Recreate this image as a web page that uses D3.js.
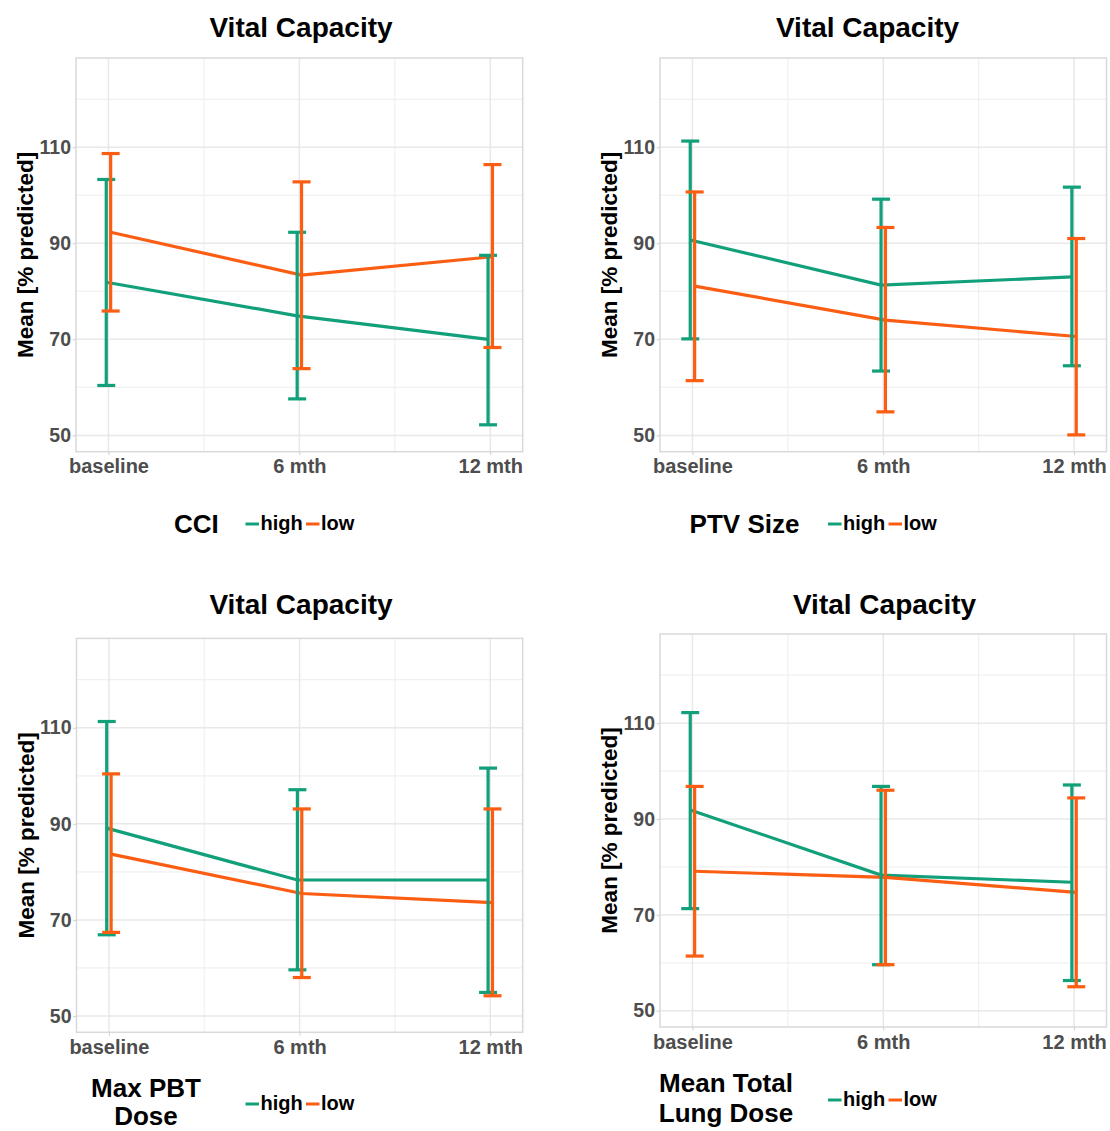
<!DOCTYPE html>
<html>
<head>
<meta charset="utf-8">
<script src="https://cdn.jsdelivr.net/npm/d3@7"></script>
<style>
  body { margin: 0; background: #fff; }
  text { font-family: "Liberation Sans", Arial, sans-serif; font-weight: bold; }
</style>
</head>
<body>
<script>
// time points and axis ticks
const timepoints = ["baseline", "6 mth", "12 mth"];
const yTicks = [50, 70, 90, 110];
const yMinor = [60, 80, 100, 120];
const yDomain = [46.6, 128.6];
const groups = ["high", "low"];

// [lower, mean, upper] per time point
const cciHigh = [[60.4, 81.9, 103.3], [57.6, 74.9, 92.3], [52.2, 70.0, 87.5]];
const cciLow  = [[75.9, 92.3, 108.7], [63.9, 83.4, 102.8], [68.3, 87.2, 106.4]];

const ptvHigh = [[70.1, 90.7, 111.3], [63.4, 81.3, 99.2], [64.5, 83.0, 101.7]];
const ptvLow  = [[61.4, 81.1, 100.7], [54.9, 74.0, 93.3], [50.1, 70.6, 91.0]];

const pbtHigh = [[66.9, 89.1, 111.3], [59.6, 78.3, 97.1], [54.9, 78.3, 101.6]];
const pbtLow  = [[67.4, 83.7, 100.4], [58.0, 75.5, 93.1], [54.2, 73.6, 93.1]];

const mtlHigh = [[71.3, 91.9, 112.2], [59.6, 78.3, 96.8], [56.3, 76.8, 97.1]];
const mtlLow  = [[61.4, 79.1, 96.8], [59.6, 77.8, 96.0], [55.0, 74.7, 94.4]];

const colors = { high: "#11a07a", low: "#fb5d12" };

const svg = d3.select("body")
  .append("svg")
  .attr("width", 1110)
  .attr("height", 1131);

const panels = [
  { high: cciHigh, low: cciLow, left: 76, right: 522.7, top: 58, bottom: 451.7,
    titleX: 301, titleY: 36.5, legendTitle: ["CCI"], legTitleX: 174, legTitleAnchor: "start",
    legTitleY: [533.3], keyX: 245.5, keyY: 524 },
  { high: ptvHigh, low: ptvLow, left: 660, right: 1106.5, top: 58, bottom: 451.7,
    titleX: 867.5, titleY: 37, legendTitle: ["PTV Size"], legTitleX: 689.6, legTitleAnchor: "start",
    legTitleY: [533.3], keyX: 828, keyY: 524 },
  { high: pbtHigh, low: pbtLow, left: 76.5, right: 522.7, top: 638.4, bottom: 1032.3,
    titleX: 301, titleY: 614, legendTitle: ["Max PBT", "Dose"], legTitleX: 146, legTitleAnchor: "middle",
    legTitleY: [1096.5, 1124.5], keyX: 245.5, keyY: 1104 },
  { high: mtlHigh, low: mtlLow, left: 660, right: 1106.5, top: 634, bottom: 1027,
    titleX: 884.5, titleY: 614, legendTitle: ["Mean Total", "Lung Dose"], legTitleX: 726, legTitleAnchor: "middle",
    legTitleY: [1092.3, 1121.7], keyX: 828, keyY: 1100 }
];

function drawPanel(p) {
  const g = svg.append("g");

  const x = d3.scalePoint()
    .domain(timepoints)
    .range([p.left, p.right])
    .padding(0.17);

  const y = d3.scaleLinear()
    .domain(yDomain)
    .range([p.bottom, p.top]);

  // grid
  const xMinor = d3.pairs(timepoints).map(([a, b]) => (x(a) + x(b)) / 2);

  g.selectAll(".gy-minor").data(yMinor).enter().append("line")
    .attr("x1", p.left).attr("x2", p.right)
    .attr("y1", d => y(d)).attr("y2", d => y(d))
    .attr("stroke", "#f0f0f0").attr("stroke-width", 1.2);

  g.selectAll(".gx-minor").data(xMinor).enter().append("line")
    .attr("x1", d => d).attr("x2", d => d)
    .attr("y1", p.top).attr("y2", p.bottom)
    .attr("stroke", "#f0f0f0").attr("stroke-width", 1.2);

  g.selectAll(".gy").data(yTicks).enter().append("line")
    .attr("x1", p.left).attr("x2", p.right)
    .attr("y1", d => y(d)).attr("y2", d => y(d))
    .attr("stroke", "#e8e8e8").attr("stroke-width", 1.5);

  g.selectAll(".gx").data(timepoints).enter().append("line")
    .attr("x1", d => x(d)).attr("x2", d => x(d))
    .attr("y1", p.top).attr("y2", p.bottom)
    .attr("stroke", "#e8e8e8").attr("stroke-width", 1.5);

  g.append("rect")
    .attr("x", p.left).attr("y", p.top)
    .attr("width", p.right - p.left).attr("height", p.bottom - p.top)
    .attr("fill", "none").attr("stroke", "#d9d9d9").attr("stroke-width", 1.5);

  // axes
  const yAxis = g.append("g")
    .attr("transform", `translate(${p.left},0)`)
    .call(d3.axisLeft(y).tickValues(yTicks).tickSize(3.5).tickPadding(1.5));
  yAxis.select(".domain").remove();
  yAxis.selectAll("line").attr("stroke", "#d0d0d0");
  yAxis.selectAll("text").attr("font-size", 19.5).attr("fill", "#4d4d4d")
    .style("font-family", "Liberation Sans, Arial, sans-serif");

  const xAxis = g.append("g")
    .attr("transform", `translate(0,${p.bottom})`)
    .call(d3.axisBottom(x).tickSize(3.5).tickPadding(4));
  xAxis.select(".domain").remove();
  xAxis.selectAll("line").attr("stroke", "#d0d0d0");
  xAxis.selectAll("text").attr("font-size", 20).attr("fill", "#4d4d4d")
    .style("font-family", "Liberation Sans, Arial, sans-serif");

  // titles
  g.append("text")
    .attr("x", p.titleX).attr("y", p.titleY)
    .attr("text-anchor", "middle")
    .attr("font-size", 28)
    .text("Vital Capacity");

  g.append("text")
    .attr("transform", `translate(${p.left - 43},${(p.top + p.bottom) / 2}) rotate(-90)`)
    .attr("text-anchor", "middle")
    .attr("font-size", 22.5)
    .text("Mean [% predicted]");

  // lines and error bars, dodged a little
  const dodge = { high: -2.2, low: 2.2 };

  groups.forEach(grp => {
    const vals = p[grp];
    const line = d3.line()
      .x((d, i) => x(timepoints[i]) + dodge[grp])
      .y(d => y(d[1]));

    g.append("path")
      .datum(vals)
      .attr("d", line)
      .attr("fill", "none")
      .attr("stroke", colors[grp])
      .attr("stroke-width", 3.2);
  });

  groups.forEach(grp => {
    const vals = p[grp];
    g.selectAll(".eb-" + grp)
      .data(vals)
      .enter()
      .append("g")
      .each(function(d, i) {
        const cx = x(timepoints[i]) + dodge[grp];
        const s = d3.select(this);
        s.append("line")
          .attr("x1", cx).attr("x2", cx)
          .attr("y1", y(d[0])).attr("y2", y(d[2]));
        s.append("line")
          .attr("x1", cx - 9).attr("x2", cx + 9)
          .attr("y1", y(d[0])).attr("y2", y(d[0]));
        s.append("line")
          .attr("x1", cx - 9).attr("x2", cx + 9)
          .attr("y1", y(d[2])).attr("y2", y(d[2]));
        s.selectAll("line")
          .attr("stroke", colors[grp])
          .attr("stroke-width", 3.2);
      });
  });

  // legend
  g.selectAll(".leg-title")
    .data(p.legendTitle)
    .enter()
    .append("text")
    .attr("x", p.legTitleX)
    .attr("y", (d, i) => p.legTitleY[i])
    .attr("text-anchor", p.legTitleAnchor)
    .attr("font-size", 26)
    .attr("fill", "#000")
    .text(d => d);

  const keyOffsets = { high: 0, low: 60.5 };
  groups.forEach(grp => {
    const kx = p.keyX + keyOffsets[grp];
    g.append("line")
      .attr("x1", kx).attr("x2", kx + 13.5)
      .attr("y1", p.keyY).attr("y2", p.keyY)
      .attr("stroke", colors[grp])
      .attr("stroke-width", 3);
    g.append("text")
      .attr("x", kx + 15)
      .attr("y", p.keyY + 6)
      .attr("font-size", 20)
      .attr("fill", "#000")
      .text(grp);
  });
}

panels.forEach(drawPanel);
</script>
</body>
</html>
